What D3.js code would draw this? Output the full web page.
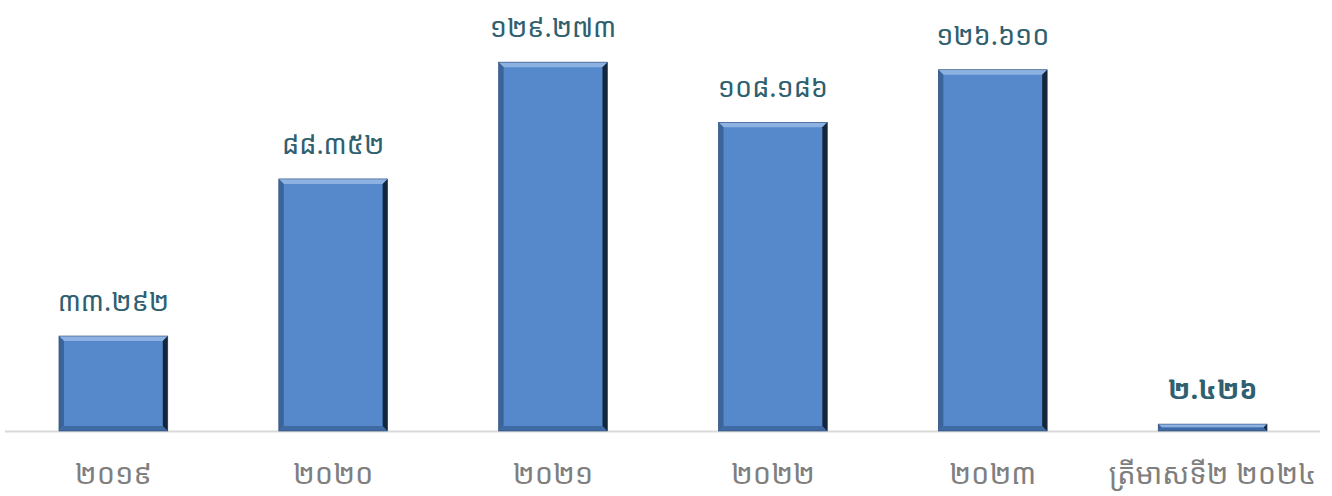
<!DOCTYPE html>
<html><head><meta charset="utf-8">
<script src="https://cdn.jsdelivr.net/npm/d3@7"></script>
<style>
html,body{margin:0;padding:0;background:#fff;}
text{font-family:"Noto Sans Khmer","Khmer OS","Noto Sans","DejaVu Sans",sans-serif;}
</style></head>
<body><svg id="c" width="1332" height="496"></svg>
<script>
const categories = ["២០១៩","២០២០","២០២១","២០២២","២០២៣","ត្រីមាសទី២ ២០២៤"];
const values = [33292, 88352, 129273, 108186, 126610, 2426];
const valueLabels = ["៣៣.២៩២","៨៨.៣៥២","១២៩.២៧៣","១០៨.១៨៦","១២៦.៦១០","២.៤២៦"];

const svg = d3.select("#c");
const x = d3.scaleBand().domain(categories).range([4, 1322]).paddingInner(0.505).paddingOuter(0.25);
const y = d3.scaleLinear().domain([0, 150000]).range([431, 3]);

// axis line
svg.append("line").attr("x1",5).attr("x2",1320).attr("y1",431.5).attr("y2",431.5)
  .attr("stroke","#d9d9d9").attr("stroke-width",2);

const bw = x.bandwidth();
const b = 5;
const g = svg.selectAll("g.bar").data(values).enter().append("g").attr("class","bar");
g.each(function(d,i){
  const s = d3.select(this);
  const x0 = x(categories[i]), x1 = x0 + bw, y0 = y(d), y1 = y(0);
  const bb = Math.min(b, (y1-y0)/2);
  s.append("rect").attr("x",x0).attr("y",y0).attr("width",bw).attr("height",y1-y0).attr("fill","#5589cb");
  s.append("polygon").attr("points",[[x0,y0],[x1,y0],[x1-bb,y0+bb],[x0+bb,y0+bb]].join(" ")).attr("fill","#8db2e2");
  s.append("polygon").attr("points",[[x0,y0],[x0+bb,y0+bb],[x0+bb,y1-bb],[x0,y1]].join(" ")).attr("fill","#3b649b");
  s.append("polygon").attr("points",[[x0,y1],[x0+bb,y1-bb],[x1-bb,y1-bb],[x1,y1]].join(" ")).attr("fill","#3f6aa3");
  s.append("polygon").attr("points",[[x1,y0],[x1,y1],[x1-bb,y1-bb],[x1-bb,y0+bb]].join(" ")).attr("fill","#14263b");
  s.append("rect").attr("x",x0).attr("y",y0).attr("width",bw).attr("height",y1-y0)
    .attr("fill","none").attr("stroke","#2d4d78").attr("stroke-width",0.6);
});

svg.selectAll("text.val").data(values).enter().append("text").attr("class","val")
  .attr("x",(d,i)=>x(categories[i])+bw/2).attr("y",d=>y(d)-25)
  .attr("text-anchor","middle").attr("font-size",27).attr("fill","#2f6070")
  .attr("font-weight",(d,i)=>i===5?"bold":"normal")
  .text((d,i)=>valueLabels[i]);

svg.selectAll("text.cat").data(categories).enter().append("text").attr("class","cat")
  .attr("x",d=>x(d)+bw/2).attr("y",484)
  .attr("text-anchor","middle").attr("font-size",29).attr("fill","#7f7f7f")
  .text(d=>d);
</script></body></html>
